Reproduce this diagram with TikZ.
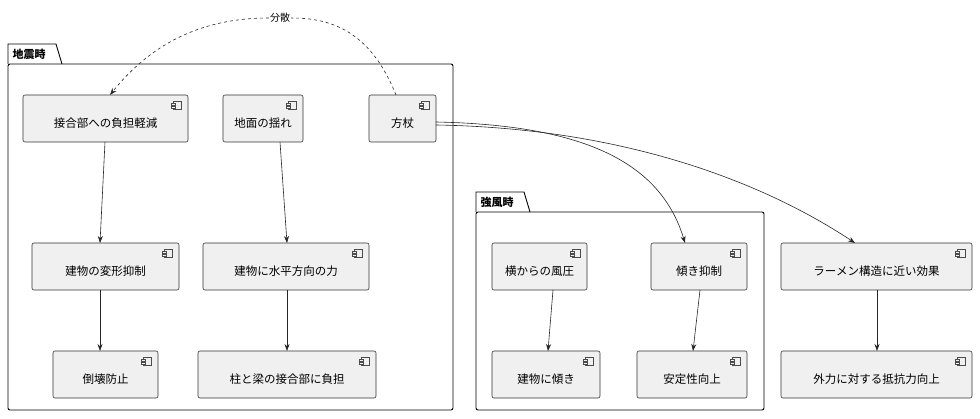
\documentclass[tikz,border=0pt]{standalone}
\usepackage{fontspec}
\setmainfont{Noto Sans CJK JP}
\usetikzlibrary{arrows.meta}
\begin{document}
\begin{tikzpicture}[x=1pt,y=-1pt,
  comp/.style={draw=black!80,fill=black!6,rounded corners=2pt,line width=0.6pt},
  pkg/.style={draw=black,line width=0.9pt},
  arr/.style={-{Stealth[length=7pt,width=5pt]},line width=0.6pt,draw=black!85}]
\useasboundingbox (0,0) rectangle (980,419);
\newcommand{\cbox}[6]{%
 \draw[comp] (#2,#3) rectangle (#4,#5);
 \node[font=\fontsize{11.5}{13}\selectfont] (#1) at ({(#2+#4)/2},{(#3+#5)/2+5}) {#6};
 \draw[black!70,line width=0.4pt,fill=black!6] (#4-15,#3+6) rectangle (#4-7,#3+14);
 \draw[black!70,line width=0.4pt,fill=black!6] (#4-17,#3+8) rectangle (#4-13,#3+10);
 \draw[black!70,line width=0.4pt,fill=black!6] (#4-17,#3+11) rectangle (#4-13,#3+13);
}
% packages
\draw[pkg,rounded corners=2pt] (8,64) rectangle (453,410);
\draw[pkg] (8,64) -- (8,44) -- (56,44) -- (62,64);
\node[anchor=west,font=\bfseries\fontsize{11}{13}\selectfont] (p1) at (9,54) {地震時};
\draw[pkg,rounded corners=2pt] (476,212) rectangle (764,410);
\draw[pkg] (476,212) -- (476,192) -- (524,192) -- (530,212);
\node[anchor=west,font=\bfseries\fontsize{11}{13}\selectfont] (p2) at (477,202) {強風時};
% boxes
\cbox{a}{23}{95}{188}{142}{接合部への負担軽減}
\cbox{b}{223}{95}{303}{142}{地面の揺れ}
\cbox{c}{369}{95}{436}{142}{方杖}
\cbox{d}{32}{243}{179}{290}{建物の変形抑制}
\cbox{e}{203}{243}{369}{290}{建物に水平方向の力}
\cbox{f}{53}{351}{158}{398}{倒壊防止}
\cbox{g}{198}{351}{376}{398}{柱と梁の接合部に負担}
\cbox{h}{492}{243}{587}{290}{横からの風圧}
\cbox{i}{651}{243}{747}{290}{傾き抑制}
\cbox{j}{492}{351}{600}{398}{建物に傾き}
\cbox{k}{637}{351}{747}{398}{安定性向上}
\cbox{l}{781}{243}{972}{290}{ラーメン構造に近い効果}
\cbox{m}{781}{351}{972}{398}{外力に対する抵抗力向上}
% anchor coordinates
\coordinate (a-s) at (105,142); \coordinate (d-n) at (100,243);
\coordinate (b-s) at (280,142); \coordinate (e-n) at (287,243);
\coordinate (d-s) at (100,290); \coordinate (f-n) at (100,351);
\coordinate (e-s) at (287,290); \coordinate (g-n) at (287,351);
\coordinate (h-s) at (553,290); \coordinate (j-n) at (548,351);
\coordinate (i-s) at (700,290); \coordinate (k-n) at (693,351);
\coordinate (l-s) at (877,290); \coordinate (m-n) at (877,351);
\coordinate (i-n) at (685,243); \coordinate (l-n) at (855,243);
% arrows
\draw[arr] (a-s) -- (d-n);
\draw[arr] (b-s) -- (e-n);
\draw[arr] (d-s) -- (f-n);
\draw[arr] (e-s) -- (g-n);
\draw[arr] (h-s) -- (j-n);
\draw[arr] (i-s) -- (k-n);
\draw[arr] (l-s) -- (m-n);
\coordinate (cr) at (436,122);
\coordinate (cr2) at (436,125);
\draw[arr] (cr) .. controls (580,125) and (660,160) .. (i-n);
\draw[arr] (cr2) .. controls (620,128) and (760,180) .. (l-n);
\coordinate (cn) at (396,95);
\coordinate (an) at (110,95);
\node[font=\fontsize{10}{12}\selectfont,fill=white,inner sep=1pt] (lbl) at (280,18) {分散};
\draw[line width=0.6pt,draw=black!85,dashed] (cn) .. controls (370,30) and (330,18) .. (lbl.east);
\draw[arr,dashed] (lbl.west) .. controls (200,18) and (150,45) .. (an);
\end{tikzpicture}
\end{document}
